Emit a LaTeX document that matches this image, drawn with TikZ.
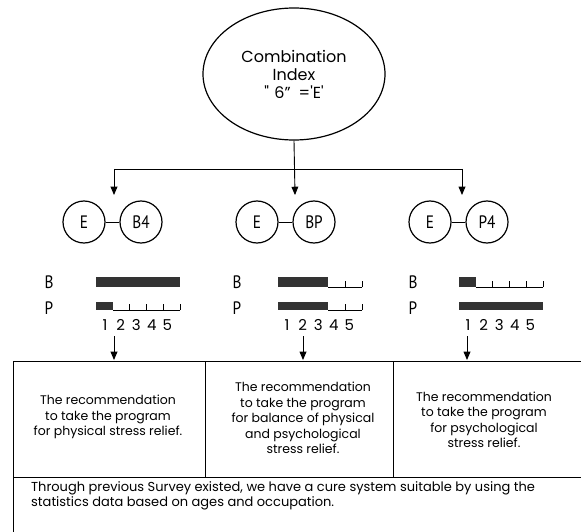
\documentclass[tikz,border=0pt]{standalone}
\usepackage{fontspec}
\setmainfont{Poppins}
\newfontfamily\labelfont[FakeStretch=0.85]{PT Sans}
\newfontfamily\rawfont[Ligatures=TeXOff]{Poppins}
\usepackage{tikz}
\usetikzlibrary{shapes,arrows}
% two linked circles: E and its partner
\newcommand{\pairnode}[4]{
  \node[pair] (#1E) at (#2,#3) {E};
  \node[pair] (#1X) at (#2+57,#3) {#4};
  \draw[link] (#1E) -- (#1X);
}
% one B/P level scale with five cells
\newcommand{\scalebar}[4]{
  \fill[barfill] (#1,#2) rectangle ++(#4*16.8,#3);
  \ifnum#4<5
    \draw[tick] (#1+#4*16.8,#2+#3) -- (#1+84,#2+#3);
    \foreach \k in {1,...,5}{
      \ifnum\k>#4
        \draw[tick] (#1+\k*16.8,#2+#3) -- ++(0,-6);
      \fi
    }
  \fi
}
\newcommand{\bargroup}[5]{
  \node[lvl] (#1B) at (#2,282) {B};
  \node[lvl] (#1P) at (#2,308) {P};
  \scalebar{#3}{277}{10}{#4}
  \scalebar{#3}{302}{8}{#5}
  \foreach \n in {1,...,5}
    \node[num] (#1n\n) at (#3+9+15.6*\n-15.6,325) {\n};
}
\tikzset{
  pair/.style   = {circle, draw, line width=1.2pt, minimum size=42pt,
                   inner sep=0pt, font=\labelfont\fontsize{18}{18}\selectfont},
  link/.style   = {line width=1pt},
  lvl/.style    = {inner sep=0pt, font=\labelfont\fontsize{18}{18}\selectfont},
  num/.style    = {inner sep=0pt, font=\fontsize{15}{15}\selectfont},
  barfill/.style= {fill=black!80},
  tick/.style   = {line width=0.8pt},
  rec/.style    = {align=center, inner sep=0pt,
                   font=\fontsize{12.5}{15.5}\selectfont},
  frame/.style  = {line width=1pt}
}

\begin{document}
\begin{tikzpicture}[x=1pt,y=-1pt]
  \useasboundingbox (0,0) rectangle (581,532);
  \node[ellipse, draw, line width=1.2pt, minimum width=182pt,
        minimum height=132pt, inner sep=0pt, align=center,
        font=\fontsize{16}{18}\selectfont] (index) at (294,74)
    {Combination\\Index\\{\rawfont"\,\,6”\,\,\,='E'}};
  \coordinate (split) at (295,169);
  \coordinate (splitL) at (114,169);
  \coordinate (splitR) at (462,169);
  \coordinate (tipL) at (114,195);
  \coordinate (tipM) at (295,195);
  \coordinate (tipR) at (462,195);
  \pairnode{b}{84}{222}{B4}
  \pairnode{m}{257}{222}{BP}
  \pairnode{p}{430}{222}{P4}
  \tikzstyle{EdgeStyle}=[line width=0.9pt]
  \draw[EdgeStyle] (splitL) -- (splitR);
  \tikzstyle{EdgeStyle}=[line width=0.9pt, -triangle 45]
  \draw[EdgeStyle] (index.south) -- (tipM);
  \draw[EdgeStyle] (splitL) -- (tipL);
  \draw[EdgeStyle] (splitR) -- (tipR);
  \bargroup{b}{49}{96}{5}{1}
  \bargroup{m}{237}{278}{3}{3}
  \bargroup{p}{413}{459}{1}{5}
  % result boxes
  \draw[frame] (13,532) -- (13,361) -- (581,361);
  \draw[frame] (13,477) -- (581,477);
  \draw[frame] (205,361) -- (205,477);
  \draw[frame] (393,361) -- (393,477);
  \coordinate (inL) at (114,360);
  \coordinate (inM) at (303,360);
  \coordinate (inR) at (467,360);
  \draw[EdgeStyle] (114,336) coordinate (outL) -- (inL);
  \draw[EdgeStyle] (303,336) coordinate (outM) -- (inM);
  \draw[EdgeStyle] (467,336) coordinate (outR) -- (inR);
  \node[rec] (recL) at (108,417) {The recommendation\\to take the program\\for physical stress relief.};
  \node[rec] (recM) at (303,418) {The recommendation\\to take the program\\for balance of physical\\and psychological\\stress relief.};
  \node[rec] (recR) at (484,420) {The recommendation\\to take the program\\for psychological\\stress relief.};
  \node[rec, align=left, anchor=west, font=\fontsize{13}{15}\selectfont] (survey) at (31,496)
    {Through previous Survey existed, we have a cure system suitable by using the\\statistics data based on ages and occupation.};
\end{tikzpicture}
\end{document}
